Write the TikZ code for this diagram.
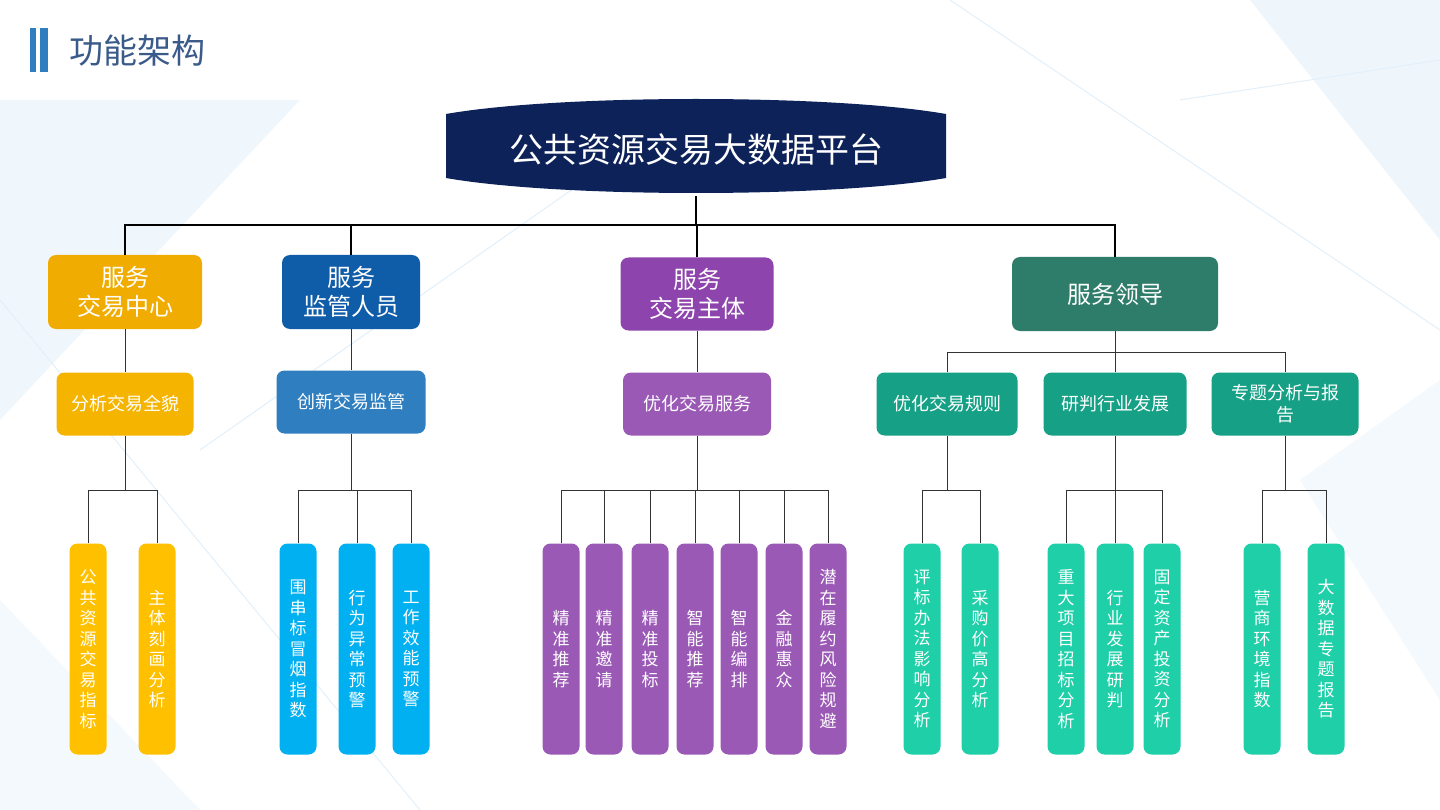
\documentclass[tikz,border=0pt]{standalone}
\usepackage{fontspec}
\setmainfont{Noto Sans CJK SC}
\usetikzlibrary{calc}
\definecolor{navy}{HTML}{0D2258}
\definecolor{cgold}{HTML}{F0AC00}
\definecolor{cgold2}{HTML}{F5B400}
\definecolor{cyel}{HTML}{FFC000}
\definecolor{cblue}{HTML}{0F5CA8}
\definecolor{cblue2}{HTML}{2F7FC0}
\definecolor{ccyan}{HTML}{00B0F0}
\definecolor{cpur}{HTML}{8E44AD}
\definecolor{cpur2}{HTML}{9B59B6}
\definecolor{cteal}{HTML}{2E7D6B}
\definecolor{cteal2}{HTML}{16A085}
\definecolor{cteal3}{HTML}{1ECFA8}
\definecolor{bgl}{HTML}{E3F0FA}
\definecolor{ttl}{HTML}{3A5A8A}
\begin{document}
\begin{tikzpicture}[x=1pt,y=-1pt,
 box/.style={rounded corners=8pt,inner sep=0pt,text=white,align=center,font=\fontsize{18}{22}\selectfont},
 big/.style={box,font=\fontsize{24}{29}\selectfont},
 leaf/.style={box,minimum width=37pt,minimum height=211pt,font=\fontsize{17}{20.5}\selectfont},
 ln/.style={draw=black,line width=1.3pt},
 ls/.style={draw=black!80,line width=0.9pt}]
\useasboundingbox (0,0) rectangle (1440,810);
\fill[white] (0,0) rectangle (1440,810);
% background decoration
\fill[bgl,opacity=0.6] (1250,0) -- (1440,0) -- (1440,240) -- cycle;
\fill[bgl,opacity=0.5] (0,100) -- (300,100) -- (0,420) -- cycle;
\fill[bgl,opacity=0.4] (1300,480) -- (1440,380) -- (1440,700) -- cycle;
\fill[bgl,opacity=0.4] (0,600) -- (200,810) -- (0,810) -- cycle;
\draw[bgl,line width=1pt] (0,300) -- (420,810) (950,0) -- (1440,330) (1180,100) -- (1440,60) (200,450) -- (700,100);
% title
\fill[cblue2] (30,28) rectangle (36,72);
\fill[cblue2] (40,28) rectangle (48,72);
\node[anchor=west,text=ttl,font=\fontsize{34}{40}\selectfont] (title) at (66,51) {功能架构};
% top
\fill[navy] (446,114) .. controls (560,94) and (832,94) .. (946,114) -- (946,178)
  .. controls (832,198) and (560,198) .. (446,178) -- cycle;
\node[box,minimum width=500pt,minimum height=92pt,font=\fontsize{34}{40}\selectfont] (top) at (696,150) {公共资源交易大数据平台};
% level 1
\node[big,fill=cgold,minimum width=154pt,minimum height=74pt] (n1) at (125,292) {服务\\交易中心};
\node[big,fill=cblue,minimum width=138pt,minimum height=74pt] (n2) at (351,292) {服务\\监管人员};
\node[big,fill=cpur,minimum width=153pt,minimum height=73pt] (n3) at (697,294) {服务\\交易主体};
\node[big,fill=cteal,minimum width=206pt,minimum height=74pt] (n4) at (1115,294) {服务领导};
\coordinate (bT) at (0,225);
\draw[ln] (top.south) -- (top.south |- bT);
\draw[ln] (n1.north) -- (n1.north |- bT) -- (n4.north |- bT) -- (n4.north);
\draw[ln] (n2.north) -- (n2.north |- bT);
\draw[ln] (n3.north) -- (n3.north |- bT);
% level 2
\node[box,fill=cgold2,minimum width=137pt,minimum height=63pt] (m1) at (125,404) {分析交易全貌};
\node[box,fill=cblue2,minimum width=149pt,minimum height=63pt] (m2) at (351,402) {创新交易监管};
\node[box,fill=cpur2,minimum width=148pt,minimum height=63pt] (m3) at (697,404) {优化交易服务};
\node[box,fill=cteal2,minimum width=141pt,minimum height=63pt] (m4) at (947,404) {优化交易规则};
\node[box,fill=cteal2,minimum width=143pt,minimum height=63pt] (m5) at (1115,404) {研判行业发展};
\node[box,fill=cteal2,minimum width=147pt,minimum height=63pt] (m6) at (1285,404) {专题分析与报\\告};
\draw[ls] (n1.south) -- (m1.north);
\draw[ls] (n2.south) -- (m2.north);
\draw[ls] (n3.south) -- (m3.north);
\coordinate (bL) at (0,352);
\draw[ls] (n4.south) -- (n4.south |- bL);
\draw[ls] (m4.north) -- (m4.north |- bL) -- (m6.north |- bL) -- (m6.north);
\draw[ls] (m5.north) -- (m5.north |- bL);
% leaves
\def\ly{649}
\node[leaf,fill=cyel] (a1) at (88,\ly) {公\\共\\资\\源\\交\\易\\指\\标};
\node[leaf,fill=cyel] (a2) at (157,\ly) {主\\体\\刻\\画\\分\\析};
\node[leaf,fill=ccyan] (b1) at (298,\ly) {围\\串\\标\\冒\\烟\\指\\数};
\node[leaf,fill=ccyan] (b2) at (357,\ly) {行\\为\\异\\常\\预\\警};
\node[leaf,fill=ccyan] (b3) at (411,\ly) {工\\作\\效\\能\\预\\警};
\node[leaf,fill=cpur2] (c1) at (561,\ly) {精\\准\\推\\荐};
\node[leaf,fill=cpur2] (c2) at (604,\ly) {精\\准\\邀\\请};
\node[leaf,fill=cpur2] (c3) at (650,\ly) {精\\准\\投\\标};
\node[leaf,fill=cpur2] (c4) at (695,\ly) {智\\能\\推\\荐};
\node[leaf,fill=cpur2] (c5) at (739,\ly) {智\\能\\编\\排};
\node[leaf,fill=cpur2] (c6) at (784,\ly) {金\\融\\惠\\众};
\node[leaf,fill=cpur2] (c7) at (828,\ly) {潜\\在\\履\\约\\风\\险\\规\\避};
\node[leaf,fill=cteal3] (d1) at (922,\ly) {评\\标\\办\\法\\影\\响\\分\\析};
\node[leaf,fill=cteal3] (d2) at (980,\ly) {采\\购\\价\\高\\分\\析};
\node[leaf,fill=cteal3] (e1) at (1066,\ly) {重\\大\\项\\目\\招\\标\\分\\析};
\node[leaf,fill=cteal3] (e2) at (1115,\ly) {行\\业\\发\\展\\研\\判};
\node[leaf,fill=cteal3] (e3) at (1162,\ly) {固\\定\\资\\产\\投\\资\\分\\析};
\node[leaf,fill=cteal3] (f1) at (1262,\ly) {营\\商\\环\\境\\指\\数};
\node[leaf,fill=cteal3] (f2) at (1326,\ly) {大\\数\\据\\专\\题\\报\\告};
\coordinate (bB) at (0,490);
\draw[ls] (m1.south) -- (m1.south |- bB);
\draw[ls] (a1.north) -- (a1.north |- bB) -- (a2.north |- bB) -- (a2.north);
\draw[ls] (m2.south) -- (m2.south |- bB);
\draw[ls] (b1.north) -- (b1.north |- bB) -- (b3.north |- bB) -- (b3.north);
\draw[ls] (b2.north) -- (b2.north |- bB);
\draw[ls] (m3.south) -- (m3.south |- bB);
\draw[ls] (c1.north) -- (c1.north |- bB) -- (c7.north |- bB) -- (c7.north);
\foreach \n in {c2,c3,c4,c5,c6} \draw[ls] (\n.north) -- (\n.north |- bB);
\draw[ls] (m4.south) -- (m4.south |- bB);
\draw[ls] (d1.north) -- (d1.north |- bB) -- (d2.north |- bB) -- (d2.north);
\draw[ls] (m5.south) -- (m5.south |- bB);
\draw[ls] (e1.north) -- (e1.north |- bB) -- (e3.north |- bB) -- (e3.north);
\draw[ls] (e2.north) -- (e2.north |- bB);
\draw[ls] (m6.south) -- (m6.south |- bB);
\draw[ls] (f1.north) -- (f1.north |- bB) -- (f2.north |- bB) -- (f2.north);
\end{tikzpicture}
\end{document}
